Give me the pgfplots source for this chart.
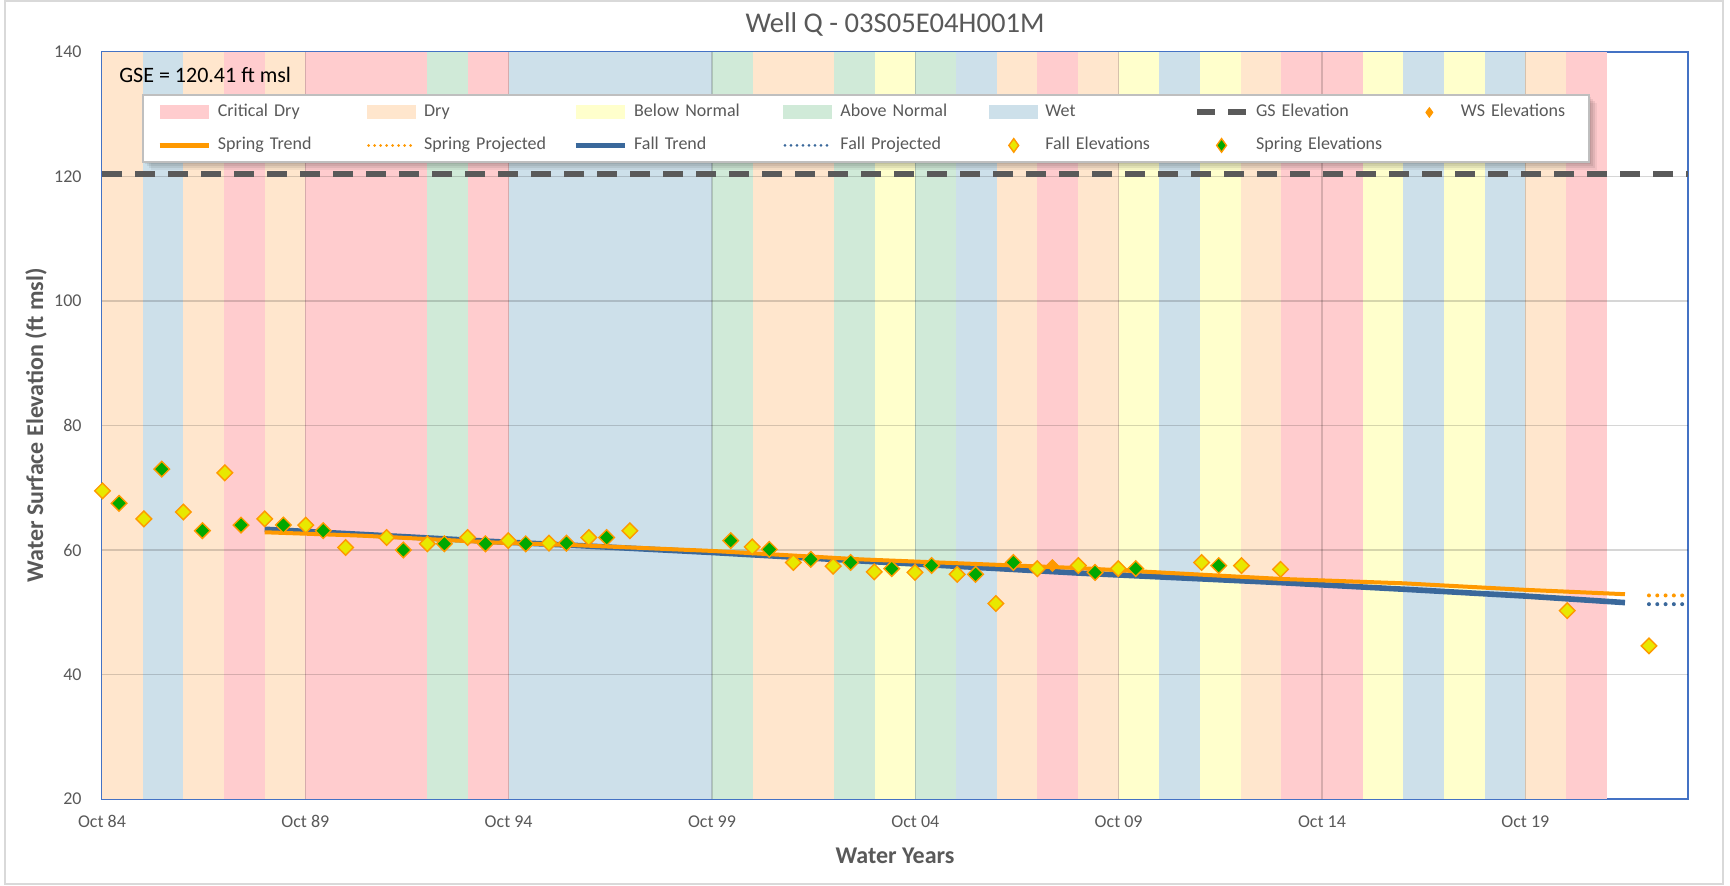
\documentclass[border=0pt]{standalone}
\usepackage{pgfplots}
\pgfplotsset{compat=1.18}
\usepackage{fontspec}
\setmainfont{Carlito}
\definecolor{cCrit}{HTML}{FFCCCE}
\definecolor{cDry}{HTML}{FFE6CD}
\definecolor{cBN}{HTML}{FFFFCC}
\definecolor{cAN}{HTML}{D0EAD8}
\definecolor{cWet}{HTML}{CDE0EA}
\definecolor{cGS}{HTML}{5A5A5A}
\definecolor{cOrg}{HTML}{FF9900}
\definecolor{cBlue}{HTML}{3A689B}
\definecolor{cYel}{HTML}{E8E800}
\definecolor{cGrn}{HTML}{00A800}
\definecolor{tgray}{HTML}{595959}
\definecolor{axblue}{HTML}{4472C4}
\definecolor{bord}{HTML}{D9D9D9}
\newcommand{\band}[3]{\addplot[fill=#1, draw=none, forget plot] coordinates {(#2,140) (#3,140)} \closedcycle;}
\newcommand{\hgrid}[1]{\addplot[forget plot, black, opacity=0.16, line width=0.7pt] coordinates {(0,#1) (39,#1)};}
\newcommand{\vgrid}[1]{\addplot[forget plot, black, opacity=0.16, line width=0.7pt] coordinates {(#1,20) (#1,140)};}
\begin{document}
\begin{tikzpicture}
\useasboundingbox (0,0) rectangle (865pt,442.5pt);
\draw[color=bord, line width=0.6pt] (2.5pt,0.5pt) rectangle (861.5pt,442pt);
\begin{axis}[
  at={(51pt,43pt)}, anchor=south west,
  scale only axis, width=793pt, height=373.5pt,
  xmin=0, xmax=39, ymin=20, ymax=140,
  xtick={0,5,...,35},
  xticklabels={Oct 84,Oct 89,Oct 94,Oct 99,Oct 04,Oct 09,Oct 14,Oct 19},
  ytick={20,40,...,140},
  major tick length=0pt,
  /pgf/number format/assume math mode=true,
  ticklabel style={font=\fontsize{9}{10}\selectfont, text=tgray},
  yticklabel style={inner xsep=0pt, xshift=-10pt},
  xticklabel style={inner ysep=0pt, yshift=-8pt},
  axis line style={axblue, line width=0.8pt},
  title={Well Q - 03S05E04H001M},
  title style={at={(axis description cs:0.5,1.0214)}, anchor=center, font=\fontsize{14.3}{16}\selectfont, text=tgray},
  xlabel={Water Years},
  ylabel={Water Surface Elevation (ft msl)},
  label style={font=\bfseries\fontsize{12}{14}\selectfont, text=tgray},
  xlabel style={at={(axis description cs:0.5,-0.0763)}, anchor=center},
  ylabel style={at={(axis description cs:-0.0416,0.5)}, anchor=center},
  legend columns=7,
  legend cell align=left,
  legend style={at={(0.0259,0.9424)}, anchor=north west, draw=none, fill=none,
    font=\fontsize{9}{10}\selectfont, text=tgray,
    inner xsep=7pt, inner ysep=2.25pt, row sep=4pt,
    nodes={text width=55.5pt, align=left, inner xsep=3.5pt, inner ysep=2pt, text height=6.5pt, text depth=2pt},
    /tikz/every even column/.append style={column sep=15.4pt}},
]
\band{cDry}{0}{1}
\band{cWet}{1}{2}
\band{cDry}{2}{3}
\band{cCrit}{3}{4}
\band{cDry}{4}{5}
\band{cCrit}{5}{8}
\band{cAN}{8}{9}
\band{cCrit}{9}{10}
\band{cWet}{10}{15}
\band{cAN}{15}{16}
\band{cDry}{16}{18}
\band{cAN}{18}{19}
\band{cBN}{19}{20}
\band{cAN}{20}{21}
\band{cWet}{21}{22}
\band{cDry}{22}{23}
\band{cCrit}{23}{24}
\band{cDry}{24}{25}
\band{cBN}{25}{26}
\band{cWet}{26}{27}
\band{cBN}{27}{28}
\band{cDry}{28}{29}
\band{cCrit}{29}{31}
\band{cBN}{31}{32}
\band{cWet}{32}{33}
\band{cBN}{33}{34}
\band{cWet}{34}{35}
\band{cDry}{35}{36}
\band{cCrit}{36}{37}

\hgrid{40}\hgrid{60}\hgrid{80}\hgrid{100}\hgrid{120}
\vgrid{5}\vgrid{10}\vgrid{15}\vgrid{20}\vgrid{25}\vgrid{30}\vgrid{35}

% legend images
\addlegendimage{legend image code/.code={\path[fill=cCrit, draw=none] (0pt,-3.5pt) rectangle (24.5pt,3.5pt);}}
\addlegendentry{\mbox{Critical Dry}}
\addlegendimage{legend image code/.code={\path[fill=cDry, draw=none] (0pt,-3.5pt) rectangle (24.5pt,3.5pt);}}
\addlegendentry{\mbox{Dry}}
\addlegendimage{legend image code/.code={\path[fill=cBN, draw=none] (0pt,-3.5pt) rectangle (24.5pt,3.5pt);}}
\addlegendentry{\mbox{Below Normal}}
\addlegendimage{legend image code/.code={\path[fill=cAN, draw=none] (0pt,-3.5pt) rectangle (24.5pt,3.5pt);}}
\addlegendentry{\mbox{Above Normal}}
\addlegendimage{legend image code/.code={\path[fill=cWet, draw=none] (0pt,-3.5pt) rectangle (24.5pt,3.5pt);}}
\addlegendentry{\mbox{Wet}}
\addlegendimage{legend image code/.code={\draw[cGS, line width=3pt, dash pattern=on 9pt off 6.5pt] (0pt,0pt) -- (24.5pt,0pt);}}
\addlegendentry{\mbox{GS Elevation}}
\addlegendimage{legend image code/.code={\path[draw=none, fill=none] (0pt,0pt) -- (24.5pt,0pt); \path[fill=cOrg, draw=none] (12.25pt,2.8pt) -- (14.3pt,0pt) -- (12.25pt,-2.8pt) -- (10.2pt,0pt) -- cycle;}}
\addlegendentry{\mbox{WS Elevations}}
\addlegendimage{legend image code/.code={\draw[cOrg, line width=2.2pt] (0pt,0pt) -- (24.5pt,0pt);}}
\addlegendentry{\mbox{Spring Trend}}
\addlegendimage{legend image code/.code={\draw[cOrg, line width=1.5pt, line cap=round, dash pattern=on 0pt off 3.0pt] (1pt,0pt) -- (24.5pt,0pt);}}
\addlegendentry{\mbox{Spring Projected}}
\addlegendimage{legend image code/.code={\draw[cBlue, line width=2.6pt] (0pt,0pt) -- (24.5pt,0pt);}}
\addlegendentry{\mbox{Fall Trend}}
\addlegendimage{legend image code/.code={\draw[cBlue, line width=1.5pt, line cap=round, dash pattern=on 0pt off 3.0pt] (1pt,0pt) -- (24.5pt,0pt);}}
\addlegendentry{\mbox{Fall Projected}}
\addlegendimage{legend image code/.code={\path[draw=none, fill=none] (0pt,0pt) -- (24.5pt,0pt); \path[fill=cYel, draw=cOrg, line width=0.7pt] (12.25pt,3.4pt) -- (14.7pt,0pt) -- (12.25pt,-3.4pt) -- (9.8pt,0pt) -- cycle;}}
\addlegendentry{\mbox{Fall Elevations}}
\addlegendimage{legend image code/.code={\path[draw=none, fill=none] (0pt,0pt) -- (24.5pt,0pt); \path[fill=cGrn, draw=cOrg, line width=0.7pt] (12.25pt,3.4pt) -- (14.7pt,0pt) -- (12.25pt,-3.4pt) -- (9.8pt,0pt) -- cycle;}}
\addlegendentry{\mbox{Spring Elevations}}

% GS elevation
\addplot[forget plot, cGS, line width=3pt, dash pattern=on 10pt off 6.5pt] coordinates {(0,120.41) (39,120.41)};

% trends
\addplot[forget plot, cBlue, line width=2.8pt] coordinates {
(4,63.33) (6.4,62.5) (9.66,61.35) (11.75,60.7) (15,59.6) (18.9,58.15) (24,56.3) (29,54.75) (32,53.7) (35,52.6) (37.45,51.55)};
\addplot[forget plot, cOrg, line width=2.0pt] coordinates {
(4,62.85) (6.4,62.3) (9.66,61.2) (11.75,60.75) (15,59.85) (18.64,58.5) (24,57.1) (29,55.35) (32,54.65) (35,53.6) (37.45,52.9)};
\addplot[forget plot, cOrg, line width=2pt, line cap=round, dash pattern=on 0pt off 4.15pt] coordinates {(38.04,52.7) (38.9,52.7)};
\addplot[forget plot, cBlue, line width=2pt, line cap=round, dash pattern=on 0pt off 4.15pt] coordinates {(38.04,51.3) (38.9,51.3)};

% WS elevations
\addplot[forget plot, only marks, mark=square*, mark size=2.1pt, mark options={rotate=45, fill=cOrg, draw=cOrg}] coordinates {(23.37,57.5)};

% Fall elevations
\addplot[forget plot, only marks, mark=square*, mark size=2.75pt, mark options={rotate=45, fill=cYel, draw=cOrg, line width=0.7pt}] coordinates {
(0.01,69.5) (1.03,65.0) (2.0,66.1) (3.02,72.4) (4.0,65.0) (5.01,64.0) (5.99,60.4) (7.0,62.0) (8.0,61.0) (8.99,62.0)
(9.99,61.5) (10.99,61.1) (11.97,62.0) (12.98,63.1) (15.99,60.5) (17.0,58.0) (17.98,57.4) (18.99,56.5) (19.99,56.4)
(21.03,56.1) (21.98,51.4) (23.0,57.0) (24.01,57.5) (24.99,57.0) (27.04,58.0) (28.02,57.5) (28.98,56.9) (36.03,50.25) (38.04,44.6)};

% Spring elevations
\addplot[forget plot, only marks, mark=square*, mark size=2.75pt, mark options={rotate=45, fill=cGrn, draw=cOrg, line width=0.7pt}] coordinates {
(0.42,67.5) (1.47,73.0) (2.47,63.1) (3.42,64.0) (4.46,64.0) (5.44,63.1) (7.41,60.0) (8.42,61.0) (9.43,61.0) (10.42,61.0)
(11.42,61.1) (12.41,62.0) (15.46,61.5) (16.41,60.1) (17.43,58.5) (18.41,58.0) (19.42,57.0) (20.4,57.5) (21.48,56.1)
(22.41,58.0) (24.42,56.4) (25.42,57.0) (27.46,57.5)};

\node[anchor=west, font=\fontsize{11}{12}\selectfont, inner sep=0pt] at (rel axis cs:0.0107,0.969) {GSE = 120.41 ft msl};

% legend box with soft shadow
\fill[black, opacity=0.07] ([xshift=1pt,yshift=-1pt]rel axis cs:0.0259,0.9424) rectangle ([xshift=1pt,yshift=-1pt]rel axis cs:0.9376,0.8527);
\fill[black, opacity=0.07] ([xshift=2pt,yshift=-2pt]rel axis cs:0.0259,0.9424) rectangle ([xshift=2pt,yshift=-2pt]rel axis cs:0.9376,0.8527);
\fill[black, opacity=0.07] ([xshift=3pt,yshift=-3pt]rel axis cs:0.0259,0.9424) rectangle ([xshift=3pt,yshift=-3pt]rel axis cs:0.9376,0.8527);
\fill[black, opacity=0.05] ([xshift=4pt,yshift=-4pt]rel axis cs:0.0259,0.9424) rectangle ([xshift=4pt,yshift=-4pt]rel axis cs:0.9376,0.8527);
\draw[black!25, fill=white, line width=0.6pt] (rel axis cs:0.0259,0.9424) rectangle (rel axis cs:0.9376,0.8527);
\end{axis}
\end{tikzpicture}
\end{document}
